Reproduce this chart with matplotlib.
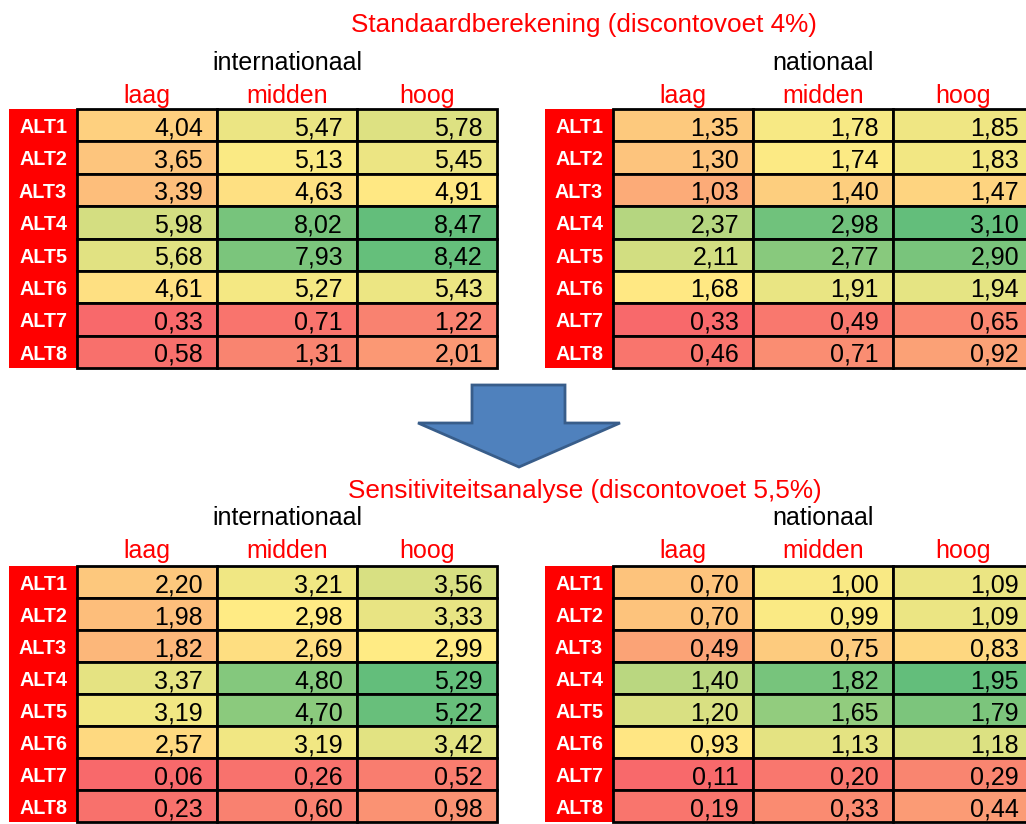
import numpy as np
import matplotlib.pyplot as plt
from matplotlib.patches import Rectangle, Polygon
from matplotlib.colors import to_rgb

plt.rcParams['font.family'] = ['Liberation Sans', 'DejaVu Sans']

alts = ["ALT1", "ALT2", "ALT3", "ALT4", "ALT5", "ALT6", "ALT7", "ALT8"]
scenarios = ["laag", "midden", "hoog"]

std_intl = [[4.04, 5.47, 5.78], [3.65, 5.13, 5.45], [3.39, 4.63, 4.91],
            [5.98, 8.02, 8.47], [5.68, 7.93, 8.42], [4.61, 5.27, 5.43],
            [0.33, 0.71, 1.22], [0.58, 1.31, 2.01]]
std_nat = [[1.35, 1.78, 1.85], [1.30, 1.74, 1.83], [1.03, 1.40, 1.47],
           [2.37, 2.98, 3.10], [2.11, 2.77, 2.90], [1.68, 1.91, 1.94],
           [0.33, 0.49, 0.65], [0.46, 0.71, 0.92]]
sens_intl = [[2.20, 3.21, 3.56], [1.98, 2.98, 3.33], [1.82, 2.69, 2.99],
             [3.37, 4.80, 5.29], [3.19, 4.70, 5.22], [2.57, 3.19, 3.42],
             [0.06, 0.26, 0.52], [0.23, 0.60, 0.98]]
sens_nat = [[0.70, 1.00, 1.09], [0.70, 0.99, 1.09], [0.49, 0.75, 0.83],
            [1.40, 1.82, 1.95], [1.20, 1.65, 1.79], [0.93, 1.13, 1.18],
            [0.11, 0.20, 0.29], [0.19, 0.33, 0.44]]

RED, YEL, GRN = (np.array(to_rgb(c)) for c in ("#F8696B", "#FFEB84", "#63BE7B"))


def scale_color(v, vmin, vmid, vmax):
    # excel style 3-colour scale: min / 50th percentile / max
    if v <= vmid:
        t = (v - vmin) / (vmid - vmin)
        return RED + (YEL - RED) * t
    t = (v - vmid) / (vmax - vmid)
    return YEL + (GRN - YEL) * t


fig = plt.figure(figsize=(10.26, 8.24), dpi=100)
ax = fig.add_axes([0, 0, 1, 1])
ax.set_xlim(0, 1026)
ax.set_ylim(824, 0)
ax.axis("off")


def draw_table(values, x0, y0, row_h, group, top_y):
    vals = np.array(values)
    vmin, vmid, vmax = vals.min(), np.percentile(vals, 50), vals.max()
    lab_w, col_w = 68, 140
    xv = x0 + lab_w
    ax.text(xv + 1.5 * col_w, top_y, group, ha="center", va="baseline",
            fontsize=18, color="black")
    for j, s in enumerate(scenarios):
        ax.text(xv + (j + 0.5) * col_w, top_y + 33, s, ha="center",
                va="baseline", fontsize=18, color="#FF0000")
    ax.add_patch(Rectangle((x0, y0), lab_w, row_h * len(alts),
                           facecolor="#FF0000", edgecolor="none"))
    for i, alt in enumerate(alts):
        yt = y0 + i * row_h
        ax.text(x0 + lab_w / 2, yt + 24, alt, ha="center", va="baseline",
                fontsize=14.2, fontweight="bold", color="white")
        for j in range(3):
            v = vals[i, j]
            ax.add_patch(Rectangle((xv + j * col_w, yt), col_w, row_h,
                                   facecolor=scale_color(v, vmin, vmid, vmax),
                                   edgecolor="black", linewidth=2))
            ax.text(xv + (j + 1) * col_w - 14, yt + 26,
                    f"{v:.2f}".replace(".", ","), ha="right", va="baseline",
                    fontsize=18, color="black")


ax.text(584, 32, "Standaardberekening (discontovoet 4%)", ha="center",
        va="baseline", fontsize=18.8, color="#FF0000")
draw_table(std_intl, 9, 109, 32.4, "internationaal", 70)
draw_table(std_nat, 545, 109, 32.4, "nationaal", 70)

arrow = Polygon([(472, 385), (565, 385), (565, 423), (620, 423), (519, 467),
                 (418, 423), (472, 423)], closed=True,
                facecolor="#4F81BD", edgecolor="#385D8A", linewidth=2)
ax.add_patch(arrow)

ax.text(585, 498, "Sensitiviteitsanalyse (discontovoet 5,5%)", ha="center",
        va="baseline", fontsize=18.8, color="#FF0000")
draw_table(sens_intl, 9, 566, 32, "internationaal", 525)
draw_table(sens_nat, 545, 566, 32, "nationaal", 525)

plt.savefig("out.png", dpi=100)
